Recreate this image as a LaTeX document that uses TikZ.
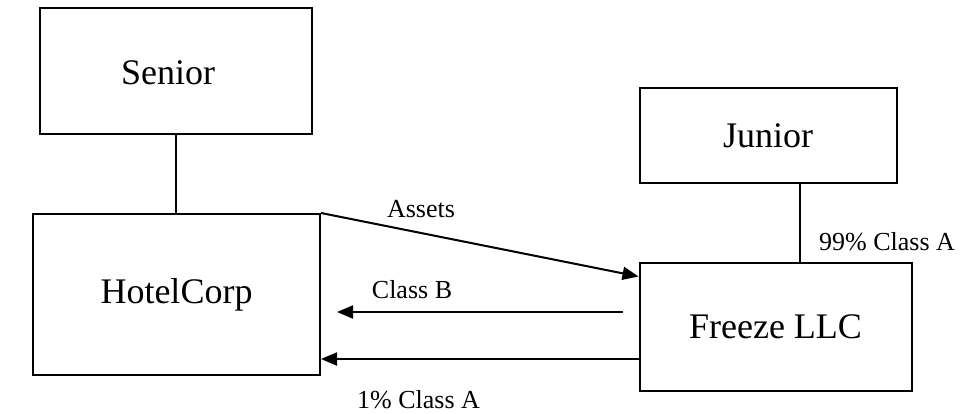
\documentclass[tikz,border=0pt]{standalone}
\usepackage{fontspec}
\setmainfont{Liberation Serif}
\usetikzlibrary{arrows.meta}
\tikzset{
  entity/.style={draw, line width=2pt, inner sep=0pt, font=\fontsize{36}{40}\selectfont},
  link/.style={line width=2pt},
  flow/.style={line width=2pt, -{Triangle[length=16pt,width=13pt]}},
  tag/.style={inner sep=0pt, font=\fontsize{26}{30}\selectfont}
}
\begin{document}
\begin{tikzpicture}[x=1pt, y=-1pt]
  \useasboundingbox[fill=white] (0,0) rectangle (960,414);

  % parties
  \node[entity, minimum width=272pt, minimum height=126pt] (senior) at (176,71) {};
  \node at (168,73) (seniortxt) {\fontsize{36}{40}\selectfont Senior};
  \node[entity, minimum width=287pt, minimum height=161pt] (hotel) at (176.5,294.5) {HotelCorp};
  \node[entity, minimum width=257pt, minimum height=95pt] (junior) at (768,135.5) {Junior};
  \node[entity, minimum width=272pt, minimum height=128pt] (freeze) at (775.5,326.5) {Freeze LLC};

  % ownership links
  \draw[link] (senior.south) -- (senior.south |- hotel.north);
  \draw[link] ([xshift=32pt]junior.south) coordinate (jr) -- (jr |- freeze.north);

  % transfers
  \draw[flow] (hotel.north east) -- ([yshift=-15pt]freeze.north west);
  \draw[flow] ([xshift=-16pt,yshift=14.5pt]freeze.west) coordinate (cb) -- ([xshift=16pt]cb -| hotel.east);
  \draw[flow] ([yshift=-32.5pt]freeze.west) coordinate (ca) -- (ca -| hotel.east);

  % labels
  \node[tag] (assets) at (421,209) {Assets};
  \node[tag] (classb) at (412,290) {Class B};
  \node[tag] (onepct) at (418.5,400) {1\% Class A};
  \node[tag] (ninetynine) at (887,241.5) {99\% Class A};
\end{tikzpicture}
\end{document}
